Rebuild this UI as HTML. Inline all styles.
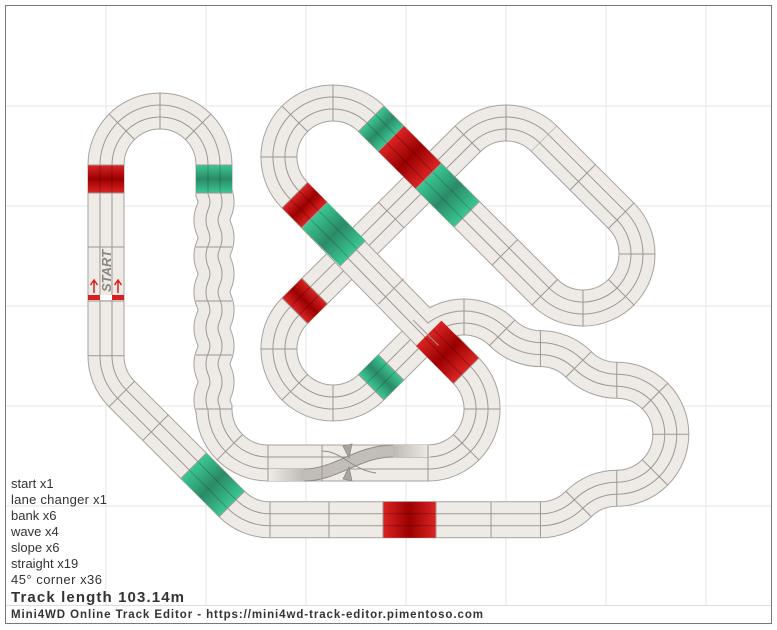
<!DOCTYPE html>
<html><head><meta charset="utf-8"><style>
html,body{margin:0;padding:0;background:#fff}
svg{display:block}
text{font-family:"Liberation Sans",sans-serif}
</style></head><body>
<svg width="777" height="630" viewBox="0 0 777 630" xmlns="http://www.w3.org/2000/svg">
<defs>
<linearGradient id="rd" x1="0" y1="0" x2="1" y2="0"><stop offset="0" stop-color="#dc2424"/><stop offset="0.5" stop-color="#9a0000"/><stop offset="1" stop-color="#dc2424"/></linearGradient>
<linearGradient id="gr" x1="0" y1="0" x2="1" y2="0"><stop offset="0" stop-color="#3ac893"/><stop offset="0.5" stop-color="#2b8a67"/><stop offset="1" stop-color="#3ac893"/></linearGradient>
<linearGradient id="lcL" x1="0" y1="0" x2="1" y2="0"><stop offset="0" stop-color="#efebe7"/><stop offset="1" stop-color="#bcb7b1"/></linearGradient>
<linearGradient id="lcR" x1="0" y1="0" x2="1" y2="0"><stop offset="0" stop-color="#bcb7b1"/><stop offset="1" stop-color="#efebe7"/></linearGradient>
<line id="tk" x1="0" y1="-18" x2="0" y2="18" stroke="#9d9792" stroke-width="1"/>
<path id="pA" d="M544.2 138.8 A54 54 0 0 0 467.8 138.8 L294.8 310.8 A54 54 0 0 0 333 403 A54 54 0 0 0 371.2 387.2 L425.8 332.8"/>
<path id="pB" d="M425.8 332.8 A54 54 0 0 1 502.2 332.8 A54 54 0 0 0 540.4 348.6 A54 54 0 0 1 578.6 364.4 A54 54 0 0 0 616.8 380.2 A54 54 0 0 1 670.8 434.2 A54 54 0 0 1 616.8 488.2 A54 54 0 0 0 578.6 504 A54 54 0 0 1 540.4 519.8 L270 519.8 A54 54 0 0 1 231.8 504 L121.8 394 A54 54 0 0 1 106 355.8 L106 165 A54 54 0 0 1 214 165 L214 193 Q218 202 214 211 Q210 220 214 229 Q218 238 214 247 Q210 256 214 265 Q218 274 214 283 Q210 292 214 301 Q218 310 214 319 Q210 328 214 337 Q218 346 214 355 Q210 364 214 373 Q218 382 214 391 Q210 400 214 409 A54 54 0 0 0 268 463 L428 463 A54 54 0 0 0 466.2 370.8 L294.8 195.2 A54 54 0 0 1 333 103 A54 54 0 0 1 371.2 118.8 L544.8 292.2 A54 54 0 0 0 637 254 A54 54 0 0 0 621.2 215.8 L544.2 138.8"/>
</defs>
<rect x="0" y="0" width="777" height="630" fill="#fff"/>
<g stroke="#e6e6e6" stroke-width="1">
<line x1="106" y1="6" x2="106" y2="605"/><line x1="206" y1="6" x2="206" y2="605"/><line x1="306" y1="6" x2="306" y2="605"/><line x1="406" y1="6" x2="406" y2="605"/><line x1="506" y1="6" x2="506" y2="605"/><line x1="606" y1="6" x2="606" y2="605"/><line x1="706" y1="6" x2="706" y2="605"/>
<line x1="6" y1="106" x2="771" y2="106"/><line x1="6" y1="206" x2="771" y2="206"/><line x1="6" y1="306" x2="771" y2="306"/><line x1="6" y1="406" x2="771" y2="406"/><line x1="6" y1="506" x2="771" y2="506"/>
</g>

<g fill="none">
<use href="#pA" stroke="#a8a29c" stroke-width="37"/>
<use href="#pA" stroke="#eeeae6" stroke-width="35"/>
<use href="#pA" stroke="#9d9792" stroke-width="13"/>
<use href="#pA" stroke="#eeeae6" stroke-width="11"/>
</g>
<g>
<g transform="translate(294.8 310.8) rotate(315)"><rect x="0" y="-18" width="28" height="36" fill="url(#rd)"/><line x1="0" y1="-6" x2="28" y2="-6" stroke="rgba(0,0,0,.25)"/><line x1="0" y1="6" x2="28" y2="6" stroke="rgba(0,0,0,.25)"/></g>
<g transform="translate(371.2 387.2) rotate(315)"><rect x="0" y="-18" width="28" height="36" fill="url(#gr)"/><line x1="0" y1="-6" x2="28" y2="-6" stroke="rgba(0,0,0,.2)"/><line x1="0" y1="6" x2="28" y2="6" stroke="rgba(0,0,0,.2)"/></g>
</g>
<g>
<use href="#tk" transform="translate(467.8 138.8) rotate(315)"/><use href="#tk" transform="translate(506 123) rotate(0)"/><use href="#tk" transform="translate(544.2 138.8) rotate(45)"/>
<use href="#tk" transform="translate(429.6 177) rotate(135)"/><use href="#tk" transform="translate(391.4 215.2) rotate(135)"/><use href="#tk" transform="translate(353.2 253.4) rotate(135)"/><use href="#tk" transform="translate(315 291.5) rotate(135)"/>
<use href="#tk" transform="translate(294.8 310.8) rotate(135)"/><use href="#tk" transform="translate(279 349) rotate(90)"/><use href="#tk" transform="translate(294.8 387.2) rotate(45)"/><use href="#tk" transform="translate(333 403) rotate(0)"/><use href="#tk" transform="translate(371.2 387.2) rotate(315)"/>
<use href="#tk" transform="translate(391 367.4) rotate(315)"/>
</g>

<g fill="none">
<use href="#pB" stroke="#a8a29c" stroke-width="37"/>
<use href="#pB" stroke="#eeeae6" stroke-width="35"/>
<use href="#pB" stroke="#9d9792" stroke-width="13"/>
<use href="#pB" stroke="#eeeae6" stroke-width="11"/>
</g>

<g fill="none">
<rect x="268" y="469" width="38" height="12" fill="url(#lcL)" stroke="none"/>
<rect x="392" y="445" width="38" height="12" fill="url(#lcR)" stroke="none"/>
<path d="M304 475 C336 475 358 451 393 451" stroke="#8f8a85" stroke-width="13"/>
<path d="M304 475 C336 475 358 451 393 451" stroke="#c2bdb7" stroke-width="11"/>
<path d="M322 451 C342 451 352 470 376 473" stroke="#8f8a85" stroke-width="1"/>
<path d="M343 446 L352 444 L349 458 Z M343 479 L352 481 L349 467 Z" fill="#a9a49e" stroke="#8f8a85" stroke-width=".8"/>
</g>

<g>
<g transform="translate(106 165) rotate(90)"><rect x="0" y="-18" width="28" height="36" fill="url(#rd)"/><line x1="0" y1="-6" x2="28" y2="-6" stroke="rgba(0,0,0,.25)"/><line x1="0" y1="6" x2="28" y2="6" stroke="rgba(0,0,0,.25)"/></g>
<g transform="translate(214 165) rotate(90)"><rect x="0" y="-18" width="28" height="36" fill="url(#gr)"/><line x1="0" y1="-6" x2="28" y2="-6" stroke="rgba(0,0,0,.2)"/><line x1="0" y1="6" x2="28" y2="6" stroke="rgba(0,0,0,.2)"/></g>
<g transform="translate(371.2 118.8) rotate(45)"><rect x="0" y="-18" width="28" height="36" fill="url(#gr)"/><line x1="0" y1="-6" x2="28" y2="-6" stroke="rgba(0,0,0,.2)"/><line x1="0" y1="6" x2="28" y2="6" stroke="rgba(0,0,0,.2)"/></g>
<g transform="translate(391 138.6) rotate(45)"><rect x="0" y="-18" width="53" height="36" fill="url(#rd)"/><line x1="0" y1="-6" x2="53" y2="-6" stroke="rgba(0,0,0,.25)"/><line x1="0" y1="6" x2="53" y2="6" stroke="rgba(0,0,0,.25)"/></g>
<g transform="translate(428.5 176.1) rotate(45)"><rect x="0" y="-18" width="54" height="36" fill="url(#gr)"/><line x1="0" y1="-6" x2="54" y2="-6" stroke="rgba(0,0,0,.2)"/><line x1="0" y1="6" x2="54" y2="6" stroke="rgba(0,0,0,.2)"/></g>
<g transform="translate(294.8 195.2) rotate(45)"><rect x="0" y="-18" width="28" height="36" fill="url(#rd)"/><line x1="0" y1="-6" x2="28" y2="-6" stroke="rgba(0,0,0,.25)"/><line x1="0" y1="6" x2="28" y2="6" stroke="rgba(0,0,0,.25)"/></g>
<g transform="translate(314.6 215) rotate(45)"><rect x="0" y="-18" width="54" height="36" fill="url(#gr)"/><line x1="0" y1="-6" x2="54" y2="-6" stroke="rgba(0,0,0,.2)"/><line x1="0" y1="6" x2="54" y2="6" stroke="rgba(0,0,0,.2)"/></g>
<g transform="translate(466.2 370.8) rotate(225)"><rect x="0" y="-18" width="53" height="36" fill="url(#rd)"/><line x1="0" y1="-6" x2="53" y2="-6" stroke="rgba(0,0,0,.25)"/><line x1="0" y1="6" x2="53" y2="6" stroke="rgba(0,0,0,.25)"/></g>
<g transform="translate(231.8 504) rotate(225)"><rect x="0" y="-18" width="54" height="36" fill="url(#gr)"/><line x1="0" y1="-6" x2="54" y2="-6" stroke="rgba(0,0,0,.2)"/><line x1="0" y1="6" x2="54" y2="6" stroke="rgba(0,0,0,.2)"/></g>
<g transform="translate(383 519.8)"><rect x="0" y="-18" width="53" height="36" fill="url(#rd)"/><line x1="0" y1="-6" x2="53" y2="-6" stroke="rgba(0,0,0,.25)"/><line x1="0" y1="6" x2="53" y2="6" stroke="rgba(0,0,0,.25)"/></g>
</g>

<g>
<use href="#tk" transform="translate(106 165) rotate(90)"/><use href="#tk" transform="translate(121.8 126.8) rotate(315)"/><use href="#tk" transform="translate(160 111)"/><use href="#tk" transform="translate(198.2 126.8) rotate(45)"/><use href="#tk" transform="translate(214 165) rotate(90)"/>
<use href="#tk" transform="translate(106 193) rotate(90)"/><use href="#tk" transform="translate(214 193) rotate(90)"/>
<use href="#tk" transform="translate(106 247) rotate(90)"/><use href="#tk" transform="translate(106 301) rotate(90)"/><use href="#tk" transform="translate(106 355.8) rotate(90)"/>
<use href="#tk" transform="translate(214 247) rotate(90)"/><use href="#tk" transform="translate(214 301) rotate(90)"/><use href="#tk" transform="translate(214 355) rotate(90)"/><use href="#tk" transform="translate(214 409) rotate(90)"/>
<use href="#tk" transform="translate(121.8 394) rotate(45)"/><use href="#tk" transform="translate(155.6 427.6) rotate(45)"/><use href="#tk" transform="translate(193.6 465.8) rotate(45)"/><use href="#tk" transform="translate(231.8 504) rotate(45)"/>
<use href="#tk" transform="translate(270 519.8)"/><use href="#tk" transform="translate(329 519.8)"/><use href="#tk" transform="translate(383 519.8)"/><use href="#tk" transform="translate(436 519.8)"/><use href="#tk" transform="translate(491 519.8)"/><use href="#tk" transform="translate(540.4 519.8)"/>
<use href="#tk" transform="translate(578.6 504) rotate(135)"/><use href="#tk" transform="translate(616.8 488.2)"/><use href="#tk" transform="translate(655 472.4) rotate(135)"/><use href="#tk" transform="translate(670.8 434.2) rotate(90)"/><use href="#tk" transform="translate(655 396) rotate(45)"/><use href="#tk" transform="translate(616.8 380.2)"/>
<use href="#tk" transform="translate(578.6 364.4) rotate(45)"/><use href="#tk" transform="translate(540.4 348.6)"/><use href="#tk" transform="translate(502.2 332.8) rotate(45)"/><use href="#tk" transform="translate(464 317)"/><use href="#tk" transform="translate(425.8 332.8) rotate(315)"/>
<use href="#tk" transform="translate(229.8 447.2) rotate(45)"/><use href="#tk" transform="translate(268 463)"/><use href="#tk" transform="translate(322 463)"/><use href="#tk" transform="translate(428 463)"/><use href="#tk" transform="translate(466.2 447.2) rotate(135)"/><use href="#tk" transform="translate(482 409) rotate(90)"/><use href="#tk" transform="translate(466.2 370.8) rotate(45)"/>
<use href="#tk" transform="translate(391 291.4) rotate(45)"/><use href="#tk" transform="translate(352.8 253.2) rotate(45)"/><use href="#tk" transform="translate(314.6 215) rotate(45)"/>
<use href="#tk" transform="translate(294.8 195.2) rotate(45)"/><use href="#tk" transform="translate(279 157) rotate(90)"/><use href="#tk" transform="translate(294.8 118.8) rotate(135)"/><use href="#tk" transform="translate(333 103)"/><use href="#tk" transform="translate(371.2 118.8) rotate(45)"/>
<use href="#tk" transform="translate(391 138.6) rotate(45)"/><use href="#tk" transform="translate(428.5 176.1) rotate(45)"/><use href="#tk" transform="translate(466.7 214.3) rotate(45)"/><use href="#tk" transform="translate(504.8 252.4) rotate(45)"/>
<use href="#tk" transform="translate(544.8 292.2) rotate(45)"/><use href="#tk" transform="translate(583 308)"/><use href="#tk" transform="translate(621.2 292.2) rotate(135)"/><use href="#tk" transform="translate(637 254) rotate(90)"/><use href="#tk" transform="translate(621.2 215.8) rotate(45)"/><use href="#tk" transform="translate(582.7 177.3) rotate(45)"/>
</g>

<g>
<rect x="88" y="295" width="12" height="5" fill="#d92020"/><rect x="100" y="295" width="12" height="5" fill="#fff"/><rect x="112" y="295" width="12" height="5" fill="#d92020"/>
<path d="M94 293 V281 M90.5 285 L94 280 L97.5 285 M118 293 V281 M114.5 285 L118 280 L121.5 285" stroke="#d92020" stroke-width="1.5" fill="none"/>
<text transform="translate(111 292) rotate(-90)" font-size="13" font-weight="bold" font-style="italic" fill="#8a8580">START</text>
</g>

<g font-size="13" fill="#333">
<text x="11" y="488">start x1</text>
<text x="11" y="504" textLength="96">lane changer x1</text>
<text x="11" y="520">bank x6</text>
<text x="11" y="536">wave x4</text>
<text x="11" y="552">slope x6</text>
<text x="11" y="568">straight x19</text>
<text x="11" y="584" textLength="91">45° corner x36</text>
<text x="11" y="602" font-size="15" font-weight="bold" textLength="173">Track length 103.14m</text>
</g>
<line x1="6" y1="605.5" x2="771" y2="605.5" stroke="#ddd"/>
<text x="11" y="618" font-size="11.5" font-weight="bold" fill="#333" textLength="472">Mini4WD Online Track Editor - https://mini4wd-track-editor.pimentoso.com</text>
<rect x="5.5" y="5.5" width="766" height="618" fill="none" stroke="#777" stroke-width="1"/>
</svg>
</body></html>
